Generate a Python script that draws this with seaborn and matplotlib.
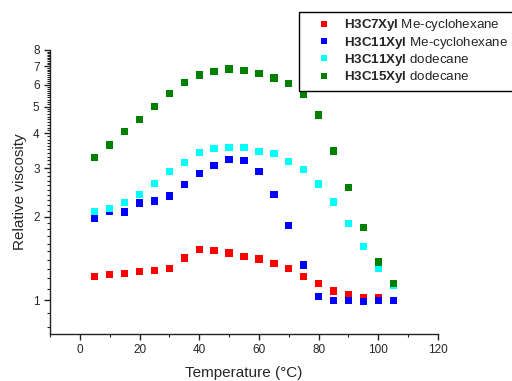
import numpy as np
import pandas as pd
import matplotlib
matplotlib.use("Agg")
import matplotlib.pyplot as plt
import matplotlib.ticker as mticker
import seaborn as sns

# temperatures (deg C) and relative viscosity
temp = [5, 10, 15, 20, 25, 30, 35, 40, 45, 50, 55, 60, 65, 70, 75, 80, 85, 90, 95, 100, 105]

c7_mech = [1.22, 1.24, 1.25, 1.27, 1.28, 1.30, 1.42, 1.52, 1.51, 1.48, 1.44, 1.41, 1.36,
           1.30, 1.22, 1.15, 1.08, 1.05, 1.025, 1.017]
c11_mech = [1.97, 2.10, 2.08, 2.24, 2.28, 2.38, 2.62, 2.86, 3.07, 3.22, 3.20, 2.92, 2.41,
            1.86, 1.34, 1.03, 1.00, 1.00, 0.99, 1.00, 1.00]
c11_dod = [2.09, 2.14, 2.25, 2.41, 2.64, 2.91, 3.14, 3.42, 3.53, 3.56, 3.56, 3.45, 3.38,
           3.16, 2.96, 2.63, 2.26, 1.89, 1.56, 1.30, 1.13]
c15_dod = [3.28, 3.63, 4.06, 4.50, 5.01, 5.58, 6.10, 6.50, 6.70, 6.83, 6.76, 6.59, 6.34,
           6.07, 5.54, 4.66, 3.46, 2.55, 1.83, 1.375, 1.15]

labels = [r"$\mathbf{H3C7Xyl}$ Me-cyclohexane",
          r"$\mathbf{H3C11Xyl}$ Me-cyclohexane",
          r"$\mathbf{H3C11Xyl}$ dodecane",
          r"$\mathbf{H3C15Xyl}$ dodecane"]
colors = ["#ff0000", "#0000ff", "#00ffff", "#008000"]

frames = []
for lab, vals in zip(labels, [c7_mech, c11_mech, c11_dod, c15_dod]):
    frames.append(pd.DataFrame({"T": temp[:len(vals)], "visc": vals, "series": lab}))
df = pd.concat(frames, ignore_index=True)

sns.set_style("ticks")
plt.rcParams["font.family"] = ["Liberation Sans", "DejaVu Sans"]
plt.rcParams["mathtext.fontset"] = "custom"
plt.rcParams["mathtext.rm"] = "Liberation Sans"
plt.rcParams["mathtext.bf"] = "Liberation Sans:bold"

fig = plt.figure(figsize=(5.12, 3.81), dpi=100)
ax = fig.add_axes([50 / 512, 1 - 334 / 381, 388 / 512, 284 / 381])

sns.scatterplot(data=df, x="T", y="visc", hue="series", hue_order=labels,
                palette=colors, marker="s", s=28, linewidth=0, ax=ax)

ax.set_yscale("log")
ax.set_xlim(-10, 120)
ax.set_ylim(0.755, 8)
ax.xaxis.set_major_locator(mticker.MultipleLocator(20))
ax.xaxis.set_minor_locator(mticker.MultipleLocator(10))
ax.yaxis.set_major_locator(mticker.FixedLocator([1, 2, 3, 4, 5, 6, 7, 8]))
ax.yaxis.set_major_formatter(mticker.FixedFormatter(["1", "2", "3", "4", "5", "6", "7", "8"]))
ax.yaxis.set_minor_locator(mticker.FixedLocator(np.arange(0.8, 8.0, 0.1)))
ax.yaxis.set_minor_formatter(mticker.NullFormatter())
ax.tick_params(which="major", direction="out", length=4, width=1, labelsize=8.5, color="#222222")
ax.tick_params(which="minor", direction="out", length=2, width=0.8, color="#222222")

sns.despine(ax=ax)
for sp in ["left", "bottom"]:
    ax.spines[sp].set_linewidth(1)
    ax.spines[sp].set_color("#222222")

ax.set_xlabel("Temperature (°C)", fontsize=11, labelpad=7)
ax.set_ylabel("Relative viscosity", fontsize=11)

ax.legend_.remove()
handles, _ = ax.get_legend_handles_labels()
leg = fig.legend(handles, labels, loc="upper left", bbox_to_anchor=(299 / 512, 1 - 12 / 381),
                 bbox_transform=fig.transFigure, borderaxespad=0, frameon=True, fancybox=False,
                 edgecolor="black", framealpha=1, fontsize=9.6, labelspacing=0.1,
                 handlelength=2.9, handletextpad=0.1, borderpad=0.4, markerscale=0.9)
leg.get_frame().set_linewidth(1)

fig.savefig("out.png", dpi=100)
